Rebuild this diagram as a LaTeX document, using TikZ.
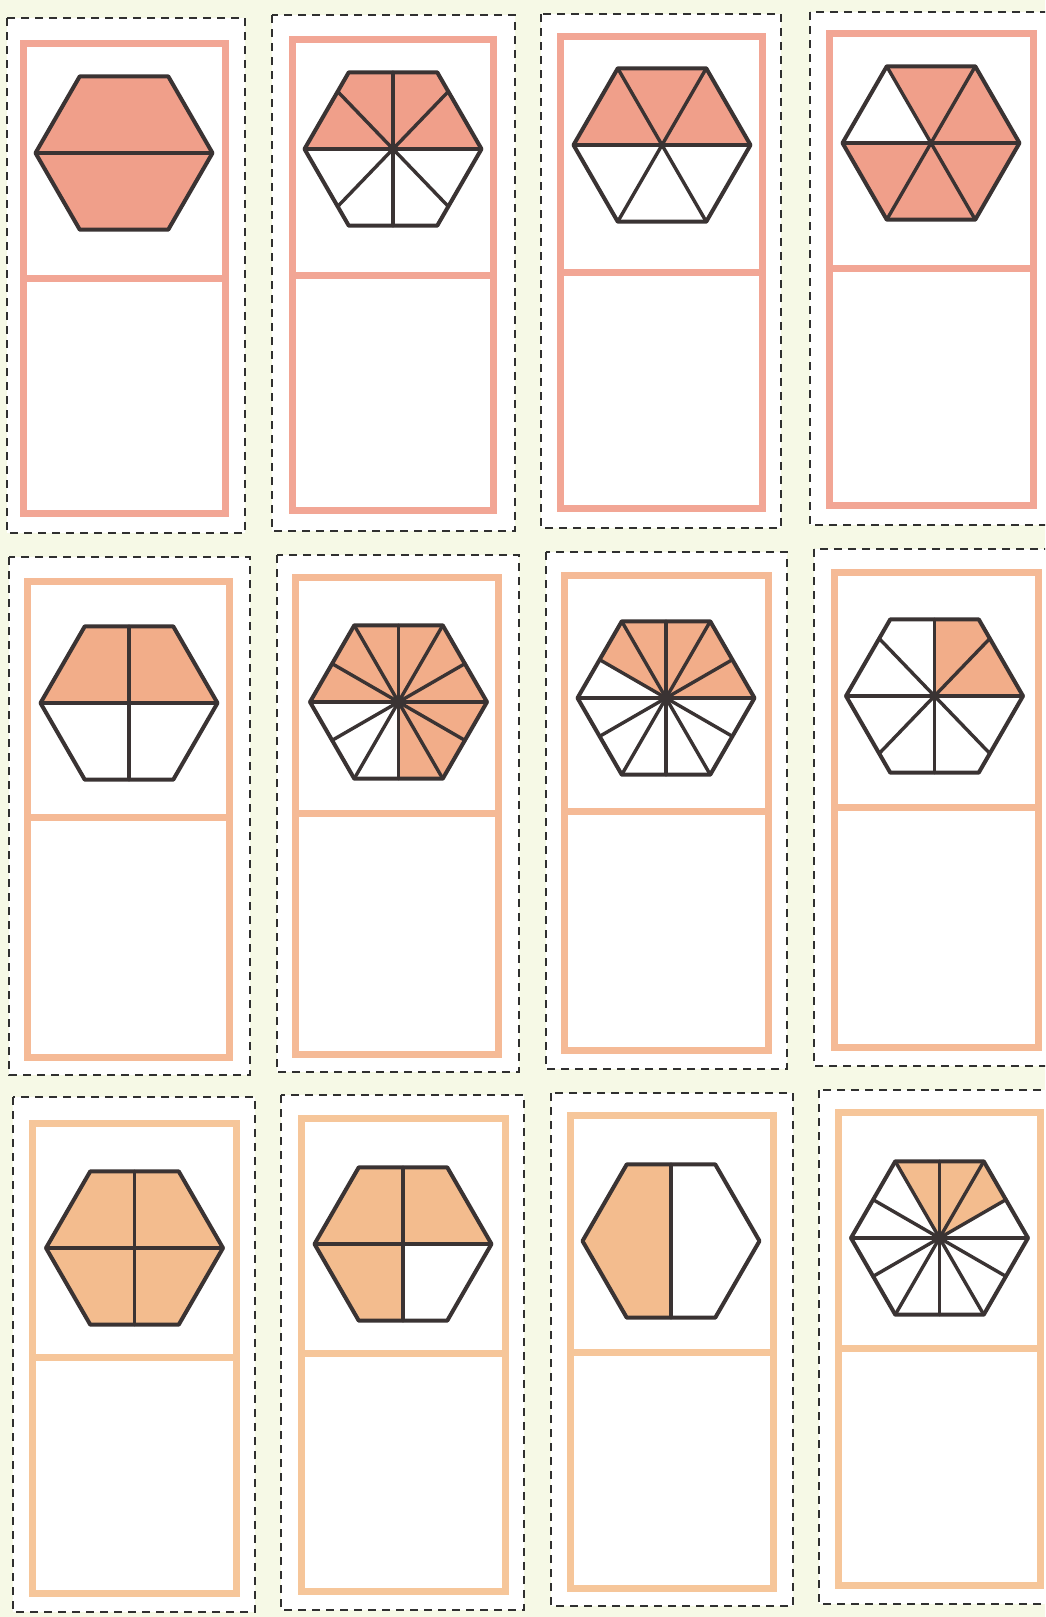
\documentclass[tikz,border=0pt]{standalone}
\usetikzlibrary{calc}
\definecolor{bgc}{HTML}{F6F9E6}
\definecolor{pinkA}{HTML}{F2A695}
\definecolor{fillA}{HTML}{F09F8A}
\definecolor{pinkB}{HTML}{F5BA96}
\definecolor{fillB}{HTML}{F2AD89}
\definecolor{pinkC}{HTML}{F6C69A}
\definecolor{fillC}{HTML}{F3BC8E}
\definecolor{ink}{HTML}{3A3333}
\definecolor{dashc}{HTML}{303030}
\newcommand\hexR{88.5}
\newcommand\hexpts{%
  \coordinate (O) at (0,0);
  \foreach \k in {0,...,5}{%
    \coordinate (V\k) at ({60*\k}:\hexR);
    \coordinate (M\k) at ({60*\k+30}:{0.8660254*\hexR});
  }
  \coordinate (QUR) at ($(V1)!0.25!(V0)$);
  \coordinate (QUL) at ($(V2)!0.25!(V3)$);
  \coordinate (QLL) at ($(V4)!0.25!(V3)$);
  \coordinate (QLR) at ($(V5)!0.25!(V0)$);
}
\newcommand\hexbase{\fill[white] (V0)--(V1)--(V2)--(V3)--(V4)--(V5)--cycle;}
\newcommand\hexoutline{\draw[hexline] (V0)--(V1)--(V2)--(V3)--(V4)--(V5)--cycle;}
\newcommand\spokesSix{\foreach \k in {0,...,5}{\draw[spoke] (O)--(V\k);}}
\newcommand\spokesTwelve{\foreach \k in {0,...,5}{\draw[spoke] (O)--(V\k); \draw[spoke] (O)--(M\k);}\fill[ink] (O) circle (4);}
\newcommand\spokesEight{\draw[spoke] (V3)--(V0); \draw[spoke] (M1)--(M4); \foreach \p in {QUR,QUL,QLL,QLR}{\draw[spoke] (O)--(\p);}}
\newcommand\linesQuarter{\draw[spoke] (V3)--(V0); \draw[spoke] (M1)--(M4);}
\newcommand\cframe[6]{\draw[frame,draw=#6,fill=white] (#1,#2) rectangle (#3,#4); \draw[frame,draw=#6] (#1,#5) -- (#3,#5);}
\begin{document}
\begin{tikzpicture}[x=1pt,y=-1pt,
  dashbox/.style={draw=dashc, line width=1.6pt, dash pattern=on 8pt off 6pt, fill=white},
  frame/.style={line width=7pt},
  hexline/.style={draw=ink, line width=4pt, line join=round},
  spoke/.style={draw=ink, line width=3.4pt, line cap=round}]
\useasboundingbox (0,0) rectangle (1045,1617);
\clip (0,0) rectangle (1045,1617);
\fill[bgc] (0,0) rectangle (1045,1617);

% ---------- dashed cut boxes ----------
\draw[dashbox] (7,18) rectangle (245,533);
\draw[dashbox] (272,15) rectangle (515,531);
\draw[dashbox] (541,14) rectangle (781,528);
\draw[dashbox] (810,12) rectangle (1060,525);
\draw[dashbox] (9,557) rectangle (250,1075);
\draw[dashbox] (277,555) rectangle (519,1072);
\draw[dashbox] (546,552) rectangle (787,1069);
\draw[dashbox] (814,549) rectangle (1060,1066);
\draw[dashbox] (13,1097) rectangle (255,1612);
\draw[dashbox] (281,1095) rectangle (524,1610);
\draw[dashbox] (551,1093) rectangle (793,1606);
\draw[dashbox] (819,1090) rectangle (1060,1604);

% ---------- card frames ----------
\cframe{23}{43}{225}{513}{278}{pinkA}
\cframe{292}{39}{493}{510}{275}{pinkA}
\cframe{560}{36}{762}{508}{272}{pinkA}
\cframe{829}{33}{1033}{505}{268}{pinkA}
\cframe{27}{581}{229}{1057}{817}{pinkB}
\cframe{295}{577}{498}{1054}{813}{pinkB}
\cframe{564}{575}{768}{1050}{811}{pinkB}
\cframe{834}{572}{1038}{1047}{807}{pinkB}
\cframe{32}{1123}{236}{1593}{1357}{pinkC}
\cframe{301}{1118}{505}{1591}{1353}{pinkC}
\cframe{570}{1115}{773}{1588}{1352}{pinkC}
\cframe{838}{1112}{1040}{1585}{1348}{pinkC}

% ---------- hexagons ----------
% 1: halves, all shaded
\begin{scope}[shift={(124,153)},yscale=-1]
\hexpts\hexbase
\fill[fillA] (V0)--(V1)--(V2)--(V3)--(V4)--(V5)--cycle;
\draw[spoke] (V3)--(V0);
\hexoutline
\end{scope}
% 2: eighths, top half shaded
\begin{scope}[shift={(393,149)},yscale=-1]
\hexpts\hexbase
\fill[fillA] (V0)--(V1)--(V2)--(V3)--cycle;
\spokesEight
\hexoutline
\end{scope}
% 3: sixths, top half shaded
\begin{scope}[shift={(662,145)},yscale=-1]
\hexpts\hexbase
\fill[fillA] (V0)--(V1)--(V2)--(V3)--cycle;
\spokesSix
\hexoutline
\end{scope}
% 4: sixths, five shaded
\begin{scope}[shift={(931,143)},yscale=-1]
\hexpts\hexbase
\fill[fillA] (O)--(V3)--(V4)--(V5)--(V0)--(V1)--(V2)--cycle;
\spokesSix
\hexoutline
\end{scope}
% 5: quarters, top half shaded
\begin{scope}[shift={(129,703)},yscale=-1]
\hexpts\hexbase
\fill[fillB] (V0)--(V1)--(V2)--(V3)--cycle;
\linesQuarter
\hexoutline
\end{scope}
% 6: twelfths, nine shaded
\begin{scope}[shift={(398.5,702)},yscale=-1]
\hexpts\hexbase
\fill[fillB] (O)--(M4)--(V5)--(V0)--(V1)--(V2)--(V3)--cycle;
\spokesTwelve
\hexoutline
\end{scope}
% 7: twelfths, five shaded
\begin{scope}[shift={(666,698)},yscale=-1]
\hexpts\hexbase
\fill[fillB] (O)--(V0)--(V1)--(V2)--(M2)--cycle;
\spokesTwelve
\hexoutline
\end{scope}
% 8: eighths, two shaded
\begin{scope}[shift={(934.5,696)},yscale=-1]
\hexpts\hexbase
\fill[fillB] (O)--(V0)--(V1)--(M1)--cycle;
\spokesEight
\hexoutline
\end{scope}
% 9: quarters, all shaded
\begin{scope}[shift={(134.5,1248)},yscale=-1]
\hexpts\hexbase
\fill[fillC] (V0)--(V1)--(V2)--(V3)--(V4)--(V5)--cycle;
\linesQuarter
\hexoutline
\end{scope}
% 10: quarters, three shaded
\begin{scope}[shift={(403,1244)},yscale=-1]
\hexpts\hexbase
\fill[fillC] (O)--(V0)--(V1)--(V2)--(V3)--(V4)--(M4)--cycle;
\linesQuarter
\hexoutline
\end{scope}
% 11: vertical halves, left shaded
\begin{scope}[shift={(671,1241)},yscale=-1]
\hexpts\hexbase
\fill[fillC] (M1)--(V2)--(V3)--(V4)--(M4)--cycle;
\draw[spoke] (M1)--(M4);
\hexoutline
\end{scope}
% 12: twelfths, three shaded
\begin{scope}[shift={(939.5,1238)},yscale=-1]
\hexpts\hexbase
\fill[fillC] (O)--(M0)--(V1)--(V2)--cycle;
\spokesTwelve
\hexoutline
\end{scope}
\end{tikzpicture}
\end{document}
